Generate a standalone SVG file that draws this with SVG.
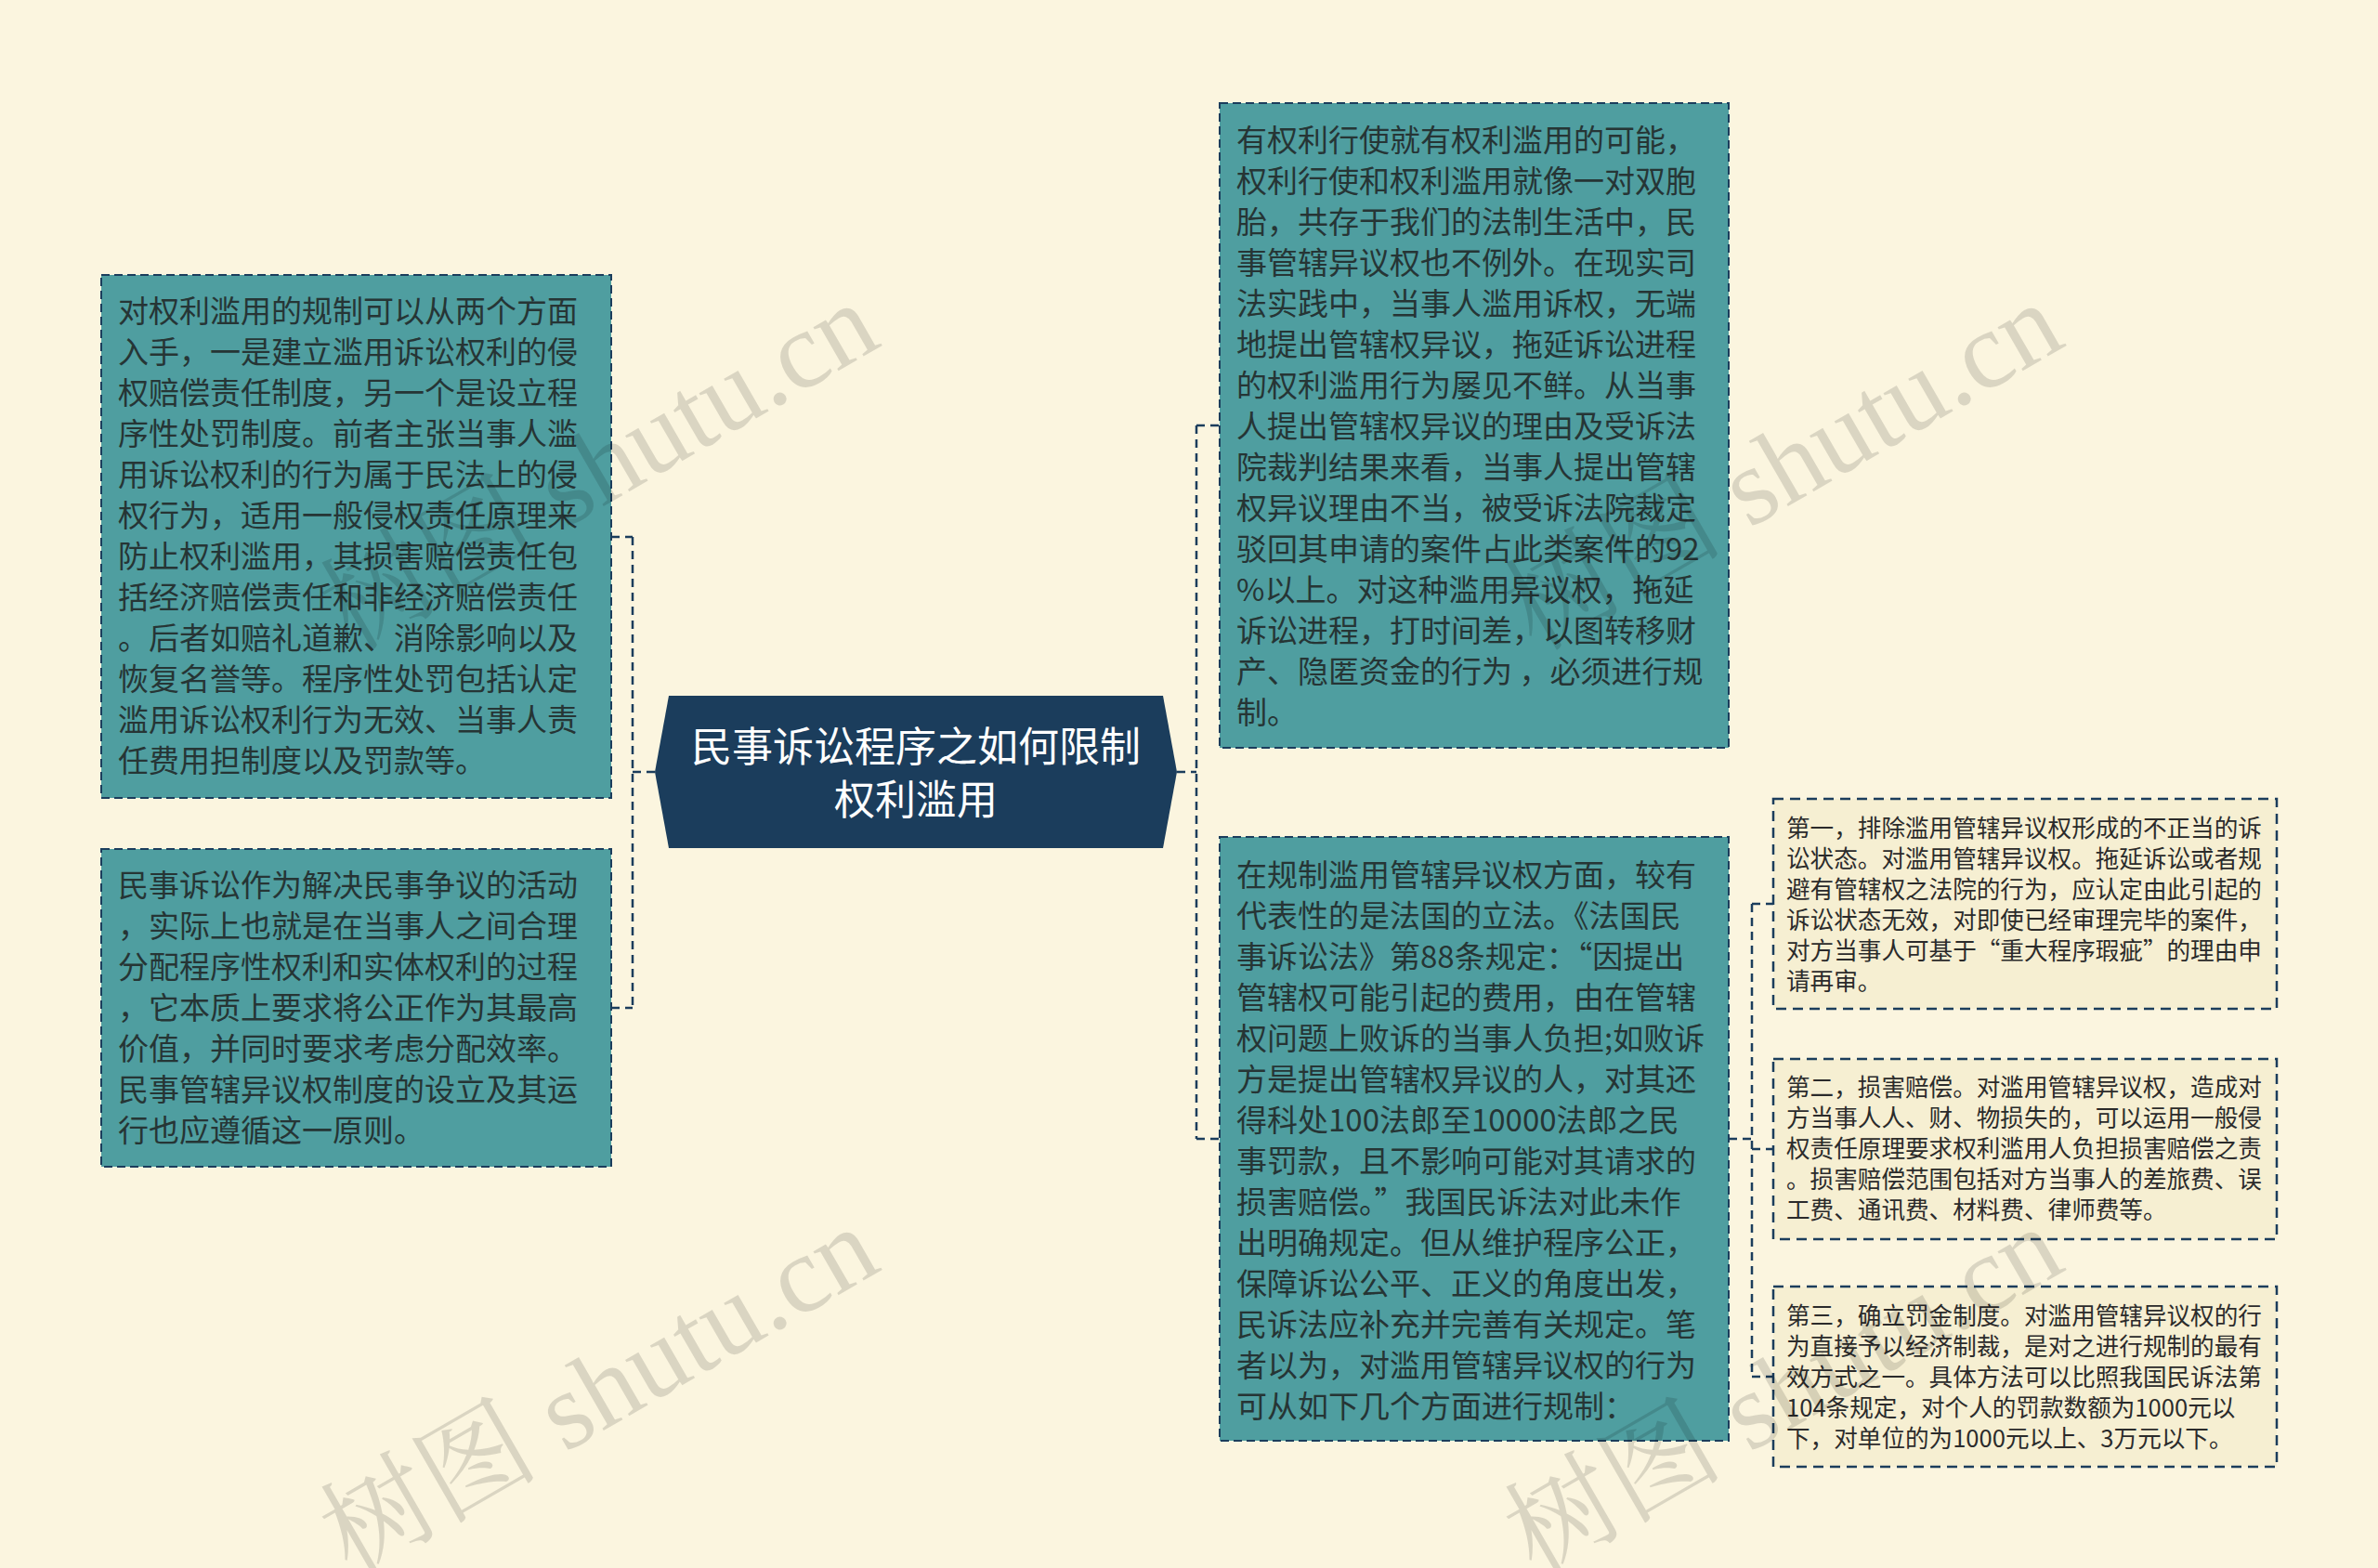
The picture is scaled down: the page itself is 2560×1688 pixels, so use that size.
<svg xmlns="http://www.w3.org/2000/svg" width="2560" height="1688" viewBox="0 0 2560 1688">
<defs>
<style>
.bg{fill:#fbf5df}
.teal{fill:#4f9ea0;stroke:#1b3d5c;stroke-width:2;stroke-dasharray:9 5}
.small{fill:#f6efd2;stroke:#1b3d5c;stroke-width:2.5;stroke-dasharray:11 7}
.conn{fill:none;stroke:#1b3d5c;stroke-width:2.5;stroke-dasharray:9 6}
.t{font-family:"Noto Sans CJK SC","Noto Sans",sans-serif;font-size:33px;fill:#263535}
.ts{font-family:"Noto Sans CJK SC","Noto Sans",sans-serif;font-size:25.6px;fill:#2b2b2b}
.tc{font-family:"Noto Sans CJK SC","Noto Sans",sans-serif;font-size:44px;fill:#ffffff;text-anchor:middle}
.wm{font-family:"Liberation Serif","Noto Serif CJK SC","Noto Sans CJK SC",serif;font-size:118px;fill:#000;fill-opacity:0.13}
</style>
</defs>
<rect class="bg" x="0" y="0" width="2560" height="1688"/>

<g id="connectors">
<path class="conn" d="M705 831 H681 M681 578 V1085 M658 578 H681 M658 1085 H681"/>
<path class="conn" d="M1267 831 H1288 M1288 458 V1226 M1288 458 H1313 M1288 1226 H1313"/>
<path class="conn" d="M1861 1226 H1886 M1886 973 V1482 M1886 973 H1909 M1886 1237 H1909 M1886 1482 H1909"/>
</g>

<g id="center">
<polygon points="705,831 720,749 1252,749 1267,831 1252,913 720,913" fill="#1b3d5c"/>
<text class="tc"><tspan x="986" y="820">民事诉讼程序之如何限制</tspan><tspan x="986" y="877">权利滥用</tspan></text>
</g>

<g id="left1">
<rect class="teal" x="109" y="296" width="549" height="563"/>
<text class="t">
<tspan x="127" y="347">对权利滥用的规制可以从两个方面</tspan>
<tspan x="127" y="391">入手，一是建立滥用诉讼权利的侵</tspan>
<tspan x="127" y="435">权赔偿责任制度，另一个是设立程</tspan>
<tspan x="127" y="479">序性处罚制度。前者主张当事人滥</tspan>
<tspan x="127" y="523">用诉讼权利的行为属于民法上的侵</tspan>
<tspan x="127" y="567">权行为，适用一般侵权责任原理来</tspan>
<tspan x="127" y="611">防止权利滥用，其损害赔偿责任包</tspan>
<tspan x="127" y="655">括经济赔偿责任和非经济赔偿责任</tspan>
<tspan x="127" y="699">。后者如赔礼道歉、消除影响以及</tspan>
<tspan x="127" y="743">恢复名誉等。程序性处罚包括认定</tspan>
<tspan x="127" y="787">滥用诉讼权利行为无效、当事人责</tspan>
<tspan x="127" y="831">任费用担制度以及罚款等。</tspan>
</text>
</g>

<g id="left2">
<rect class="teal" x="109" y="914" width="549" height="342"/>
<text class="t">
<tspan x="127" y="965">民事诉讼作为解决民事争议的活动</tspan>
<tspan x="127" y="1009">，实际上也就是在当事人之间合理</tspan>
<tspan x="127" y="1053">分配程序性权利和实体权利的过程</tspan>
<tspan x="127" y="1097">，它本质上要求将公正作为其最高</tspan>
<tspan x="127" y="1141">价值，并同时要求考虑分配效率。</tspan>
<tspan x="127" y="1185">民事管辖异议权制度的设立及其运</tspan>
<tspan x="127" y="1229">行也应遵循这一原则。</tspan>
</text>
</g>

<g id="right1">
<rect class="teal" x="1313" y="111" width="548" height="694"/>
<text class="t">
<tspan x="1331" y="163">有权利行使就有权利滥用的可能，</tspan>
<tspan x="1331" y="207">权利行使和权利滥用就像一对双胞</tspan>
<tspan x="1331" y="251">胎，共存于我们的法制生活中，民</tspan>
<tspan x="1331" y="295">事管辖异议权也不例外。在现实司</tspan>
<tspan x="1331" y="339">法实践中，当事人滥用诉权，无端</tspan>
<tspan x="1331" y="383">地提出管辖权异议，拖延诉讼进程</tspan>
<tspan x="1331" y="427">的权利滥用行为屡见不鲜。从当事</tspan>
<tspan x="1331" y="471">人提出管辖权异议的理由及受诉法</tspan>
<tspan x="1331" y="515">院裁判结果来看，当事人提出管辖</tspan>
<tspan x="1331" y="559">权异议理由不当，被受诉法院裁定</tspan>
<tspan x="1331" y="603">驳回其申请的案件占此类案件的92</tspan>
<tspan x="1331" y="647">%以上。对这种滥用异议权，拖延</tspan>
<tspan x="1331" y="691">诉讼进程，打时间差，以图转移财</tspan>
<tspan x="1331" y="735">产、隐匿资金的行为 ，必须进行规</tspan>
<tspan x="1331" y="779">制。</tspan>
</text>
</g>

<g id="right2">
<rect class="teal" x="1313" y="901" width="548" height="650"/>
<text class="t">
<tspan x="1331" y="954">在规制滥用管辖异议权方面，较有</tspan>
<tspan x="1331" y="998">代表性的是法国的立法。《法国民</tspan>
<tspan x="1331" y="1042">事诉讼法》第88条规定：“因提出</tspan>
<tspan x="1331" y="1086">管辖权可能引起的费用，由在管辖</tspan>
<tspan x="1331" y="1130">权问题上败诉的当事人负担;如败诉</tspan>
<tspan x="1331" y="1174">方是提出管辖权异议的人，对其还</tspan>
<tspan x="1331" y="1218">得科处100法郎至10000法郎之民</tspan>
<tspan x="1331" y="1262">事罚款，且不影响可能对其请求的</tspan>
<tspan x="1331" y="1306">损害赔偿。”我国民诉法对此未作</tspan>
<tspan x="1331" y="1350">出明确规定。但从维护程序公正，</tspan>
<tspan x="1331" y="1394">保障诉讼公平、正义的角度出发，</tspan>
<tspan x="1331" y="1438">民诉法应补充并完善有关规定。笔</tspan>
<tspan x="1331" y="1482">者以为，对滥用管辖异议权的行为</tspan>
<tspan x="1331" y="1526">可从如下几个方面进行规制：</tspan>
</text>
</g>

<g id="sub1">
<rect class="small" x="1909" y="860" width="542" height="226"/>
<text class="ts">
<tspan x="1923" y="901">第一，排除滥用管辖异议权形成的不正当的诉</tspan>
<tspan x="1923" y="934">讼状态。对滥用管辖异议权。拖延诉讼或者规</tspan>
<tspan x="1923" y="967">避有管辖权之法院的行为，应认定由此引起的</tspan>
<tspan x="1923" y="1000">诉讼状态无效，对即使已经审理完毕的案件，</tspan>
<tspan x="1923" y="1033">对方当事人可基于“重大程序瑕疵”的理由申</tspan>
<tspan x="1923" y="1066">请再审。</tspan>
</text>
</g>

<g id="sub2">
<rect class="small" x="1909" y="1140" width="542" height="194"/>
<text class="ts">
<tspan x="1923" y="1180">第二，损害赔偿。对滥用管辖异议权，造成对</tspan>
<tspan x="1923" y="1213">方当事人人、财、物损失的，可以运用一般侵</tspan>
<tspan x="1923" y="1246">权责任原理要求权利滥用人负担损害赔偿之责</tspan>
<tspan x="1923" y="1279">。损害赔偿范围包括对方当事人的差旅费、误</tspan>
<tspan x="1923" y="1312">工费、通讯费、材料费、律师费等。</tspan>
</text>
</g>

<g id="sub3">
<rect class="small" x="1909" y="1385" width="542" height="194"/>
<text class="ts">
<tspan x="1923" y="1426">第三，确立罚金制度。对滥用管辖异议权的行</tspan>
<tspan x="1923" y="1459">为直接予以经济制裁，是对之进行规制的最有</tspan>
<tspan x="1923" y="1492">效方式之一。具体方法可以比照我国民诉法第</tspan>
<tspan x="1923" y="1525">104条规定，对个人的罚款数额为1000元以</tspan>
<tspan x="1923" y="1558">下，对单位的为1000元以上、3万元以下。</tspan>
</text>
</g>

<g id="watermarks">
<text class="wm" transform="translate(378,702) rotate(-30)">树图 shutu.cn</text>
<text class="wm" transform="translate(378,1697) rotate(-30)">树图 shutu.cn</text>
<text class="wm" transform="translate(1653,702) rotate(-30)">树图 shutu.cn</text>
<text class="wm" transform="translate(1653,1697) rotate(-30)">树图 shutu.cn</text>
</g>
</svg>
